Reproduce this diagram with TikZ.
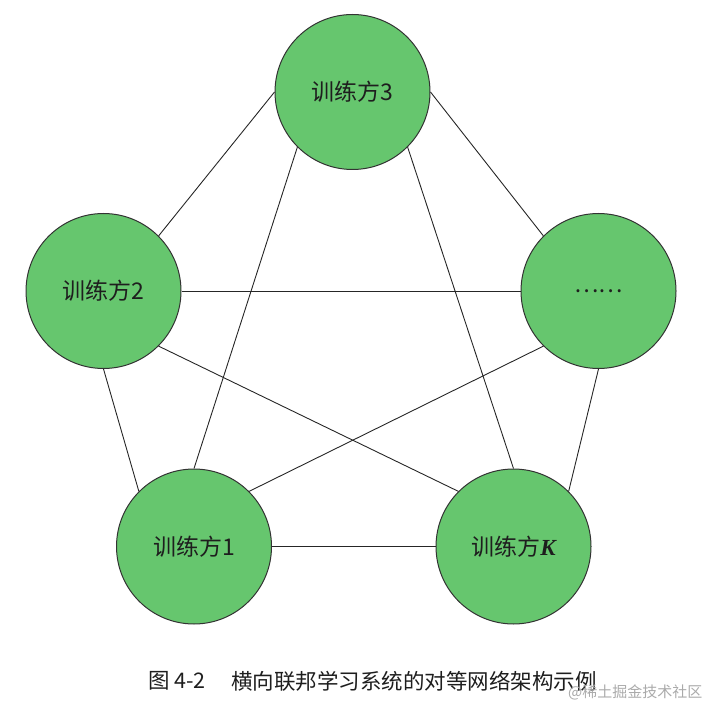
\documentclass[tikz,border=0pt]{standalone}
\usepackage{fontspec}
\newfontfamily\cjk{Noto Sans CJK SC}
\newfontfamily\tnr{Liberation Serif}
\definecolor{nodegreen}{RGB}{102,198,110}
\definecolor{txt}{RGB}{30,30,30}
\definecolor{wm}{RGB}{170,170,170}
\begin{document}
\begin{tikzpicture}[x=1pt,y=-1pt,
  party/.style={circle, draw=black!80, line width=1pt, fill=nodegreen, minimum size=155pt, inner sep=0pt, font=\cjk\fontsize{23}{27}\selectfont, text=txt},
  link/.style={draw=black!85, line width=0.9pt},
  captext/.style={inner sep=0pt, anchor=west, text=txt, font=\cjk\fontsize{21.5}{25}\selectfont}]
\useasboundingbox (0,0) rectangle (707,703);
\node[party] (t) at (352.5,92) {训练方3};
\node[party] (l) at (103.5,291) {训练方2};
\node[party] (r) at (598.5,291) {……};
\node[party] (a) at (194,546.5) {训练方1};
\node[party] (k) at (513.5,546.5) {训练方{\tnr\bfseries\itshape K}};
\draw[link] (t.180) -- (l.45);
\draw[link] (t.0) -- (r.135);
\draw[link] (t.225) -- (a.90);
\draw[link] (t.315) -- (k.90);
\draw[link] (l.0) -- (r.180);
\draw[link] (l.270) -- (a.135);
\draw[link] (l.315) -- (k.135);
\draw[link] (r.225) -- (a.45);
\draw[link] (r.270) -- (k.45);
\draw[link] (a.0) -- (k.180);
\node[captext] (c1) at (148,681) {图 4-2};
\node[captext] (c2) at (231,681) {横向联邦学习系统的对等网络架构示例};
\node[inner sep=0pt, anchor=west, text=wm, font=\cjk\fontsize{15}{18}\selectfont] (w) at (568,692) {@稀土掘金技术社区};
\end{tikzpicture}
\end{document}
